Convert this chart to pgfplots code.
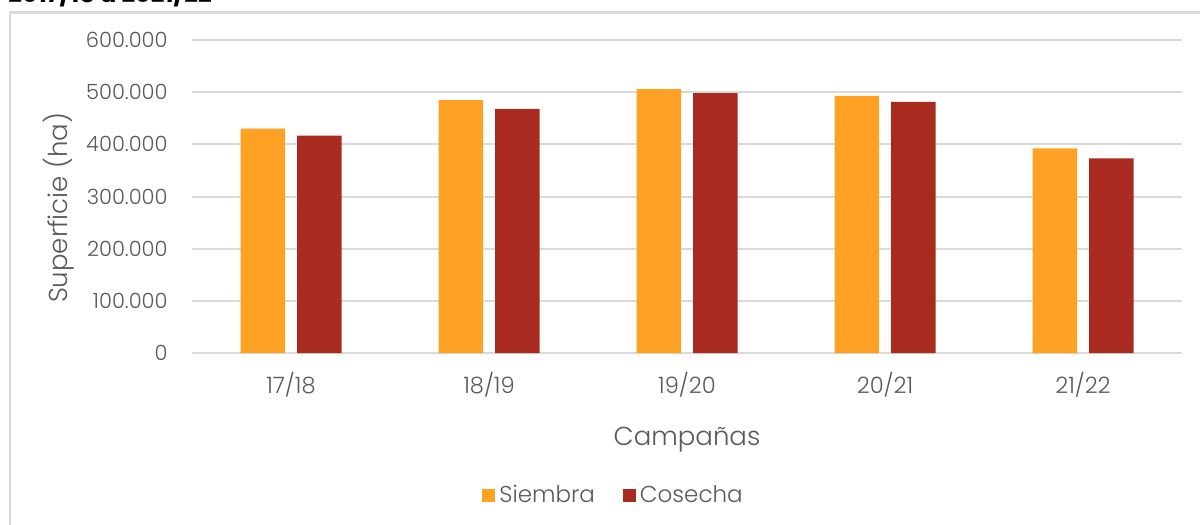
\documentclass[border=0pt]{standalone}
\usepackage{pgfplots}
\pgfplotsset{compat=1.18}
\usepackage{fontspec}
\setmainfont{Poppins}[UprightFont=* Light, BoldFont=* Bold]
\definecolor{siembra}{HTML}{FFA124}
\definecolor{cosecha}{HTML}{A92A1F}
\definecolor{gridc}{HTML}{D9D9D9}
\definecolor{txt}{HTML}{595959}
\begin{document}
\begin{tikzpicture}
\useasboundingbox (0,0) rectangle (600pt,-262.5pt);
\clip (0,0) rectangle (600pt,-262.5pt);
\draw[gridc, line width=1.2pt] (5pt,-280pt) -- (5pt,-6.25pt) -- (610pt,-6.25pt);
\node[anchor=base west, inner sep=0pt, font=\bfseries\fontsize{12}{14}\selectfont] at (4pt,-1.0pt) {2017/18 a 2021/22};
\begin{axis}[
  at={(96pt,-176.5pt)}, anchor=south west,
  width=495pt, height=156.5pt, scale only axis,
  xmin=-0.5, xmax=4.5, ymin=0, ymax=600000,
  ybar=6pt, bar width=22.25pt,
  xtick={0,1,2,3,4},
  xticklabels={17/18,18/19,19/20,20/21,21/22},
  ytick={0,100000,200000,300000,400000,500000,600000},
  scaled y ticks=false,
  /pgf/number format/assume math mode=true,
  yticklabel style={/pgf/number format/fixed, /pgf/number format/1000 sep={.}},
  ymajorgrids, grid style={gridc, line width=1pt},
  axis x line*=bottom, axis y line*=left,
  x axis line style={gridc, line width=1.2pt, -},
  y axis line style={draw=none},
  major tick length=0pt,
  yticklabel style={font=\fontsize{10.5}{13}\selectfont, text=txt, anchor=east, inner sep=0pt, xshift=-12pt},
  xticklabel style={font=\fontsize{11.3}{13}\selectfont, text=txt, anchor=base, inner sep=0pt, yshift=-20pt},
  legend columns=2,
  legend style={at={(0.4268,-0.4537)}, anchor=center, draw=none, fill=none,
    font=\fontsize{11.5}{13}\selectfont, text=txt,
    /tikz/every even column/.append style={column sep=12pt}},
  legend image code/.code={\fill[#1] (0pt,-3.25pt) rectangle (6.5pt,3.25pt);},
]
\addplot[fill=siembra, draw=none] coordinates {(0,430000) (1,484600) (2,505800) (3,492900) (4,392300)};
\addplot[fill=cosecha, draw=none] coordinates {(0,416500) (1,467900) (2,498000) (3,481300) (4,373000)};
\legend{Siembra, Cosecha}
\end{axis}
\node[anchor=base, inner sep=0pt, text=txt, font=\fontsize{13}{15}\selectfont] at (343.5pt,-222.5pt) {Campañas};
\node[rotate=90, anchor=center, inner sep=0pt, text=txt, font=\fontsize{13}{15}\selectfont] at (29.5pt,-104pt) {Superficie (ha)};
\end{tikzpicture}
\end{document}
